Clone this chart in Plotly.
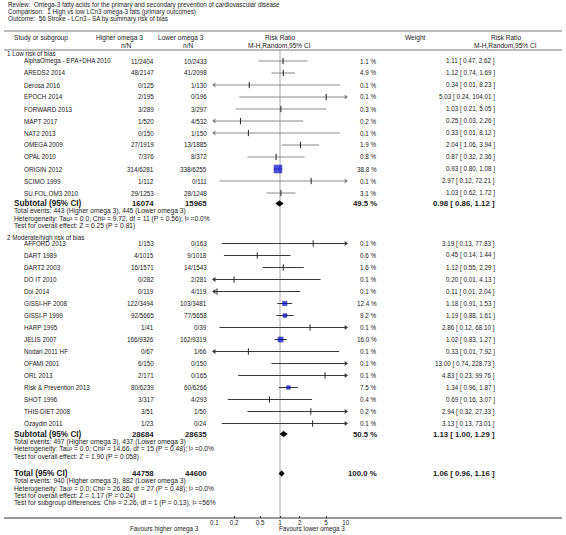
import plotly.graph_objects as go

W, H = 566, 535

# ---------------- header text ----------------
review = "Review:  Omega-3 fatty acids for the primary and secondary prevention of cardiovascular disease"
comparison = "Comparison:  1 High vs low LCn3 omega-3 fats (primary outcomes)"
outcome = "Outcome:  56 Stroke - LCn3 - SA by summary risk of bias"

# ---------------- group 1 data ----------------
g1_title = "1 Low risk of bias"
g1_names = ["AlphaOmega - EPA+DHA 2010", "AREDS2 2014", "Derosa 2016", "EPOCH 2014", "FORWARD 2013",
            "MAPT 2017", "NAT2 2013", "OMEGA 2009", "OPAL 2010", "ORIGIN 2012", "SCIMO 1999",
            "SU.FOL.OM3 2010"]
g1_hi = ["11/2404", "48/2147", "0/125", "2/195", "3/289", "1/520", "0/150", "27/1919", "7/376",
         "314/6281", "1/112", "29/1253"]
g1_lo = ["10/2433", "41/2098", "1/130", "0/196", "3/297", "4/532", "1/150", "13/1885", "8/372",
         "338/6255", "0/111", "28/1248"]
g1_weight = [1.1, 4.9, 0.1, 0.1, 0.3, 0.2, 0.1, 1.9, 0.8, 38.8, 0.1, 3.1]
g1_rr = [1.11, 1.12, 0.34, 5.03, 1.03, 0.25, 0.33, 2.04, 0.87, 0.93, 2.97, 1.03]
g1_lcl = [0.47, 0.74, 0.01, 0.24, 0.21, 0.03, 0.01, 1.06, 0.32, 0.80, 0.12, 0.62]
g1_ucl = [2.62, 1.69, 8.23, 104.01, 5.05, 2.26, 8.12, 3.94, 2.36, 1.08, 72.21, 1.72]
g1_sub_n = ["16074", "15965"]
g1_sub_w = 49.5
g1_sub = [0.98, 0.86, 1.12]
g1_stats = ["Total events: 443 (Higher omega 3), 445 (Lower omega 3)",
            "Heterogeneity: Tau² = 0.0; Chi² = 9.72, df = 11 (P = 0.56); I² =0.0%",
            "Test for overall effect: Z = 0.25 (P = 0.81)"]

# ---------------- group 2 data ----------------
g2_title = "2 Moderate/high risk of bias"
g2_names = ["AFFORD 2013", "DART 1989", "DART2 2003", "DO IT 2010", "Doi 2014", "GISSI-HF 2008",
            "GISSI-P 1999", "HARP 1995", "JELIS 2007", "Nodari 2011 HF", "OFAMI 2001", "ORL 2013",
            "Risk & Prevention 2013", "SHOT 1996", "THIS DIET 2008", "Özaydin 2011"]
g2_hi = ["1/153", "4/1015", "16/1571", "0/282", "0/119", "122/3494", "92/5665", "1/41", "166/9326",
         "0/67", "6/150", "2/171", "80/6239", "3/317", "3/51", "1/23"]
g2_lo = ["0/163", "9/1018", "14/1543", "2/281", "4/119", "103/3481", "77/5658", "0/39", "162/9319",
         "1/66", "0/150", "0/165", "60/6266", "4/293", "1/50", "0/24"]
g2_weight = [0.1, 0.6, 1.6, 0.1, 0.1, 12.4, 9.2, 0.1, 16.0, 0.1, 0.1, 0.1, 7.5, 0.4, 0.2, 0.1]
g2_rr = [3.19, 0.45, 1.12, 0.20, 0.11, 1.18, 1.19, 2.86, 1.02, 0.33, 13.00, 4.83, 1.34, 0.69, 2.94, 3.13]
g2_lcl = [0.13, 0.14, 0.55, 0.01, 0.01, 0.91, 0.88, 0.12, 0.83, 0.01, 0.74, 0.23, 0.96, 0.16, 0.32, 0.13]
g2_ucl = [77.83, 1.44, 2.29, 4.13, 2.04, 1.53, 1.61, 68.10, 1.27, 7.92, 228.73, 99.76, 1.87, 3.07,
          27.33, 73.01]
g2_sub_n = ["28684", "28635"]
g2_sub_w = 50.5
g2_sub = [1.13, 1.00, 1.29]
g2_stats = ["Total events: 497 (Higher omega 3), 437 (Lower omega 3)",
            "Heterogeneity: Tau² = 0.0; Chi² = 14.66, df = 15 (P = 0.48); I² =0.0%",
            "Test for overall effect: Z = 1.90 (P = 0.058)"]

# ---------------- overall ----------------
tot_n = ["44758", "44600"]
tot_w = 100.0
tot = [1.06, 0.96, 1.16]
tot_stats = ["Total events: 940 (Higher omega 3), 882 (Lower omega 3)",
             "Heterogeneity: Tau² = 0.0; Chi² = 26.86, df = 27 (P = 0.48); I² =0.0%",
             "Test for overall effect: Z = 1.17 (P = 0.24)",
             "Test for subgroup differences: Chi² = 2.26, df = 1 (P = 0.13), I² =56%"]

tick_vals = [0.1, 0.2, 0.5, 1, 2, 5, 10]
tick_text = ["0.1", "0.2", "0.5", "1", "2", "5", "10"]
fav_left = "Favours higher omega 3"
fav_right = "Favours lower omega 3"

# ---------------- layout helpers ----------------
FONT = "Liberation Sans, Arial, Helvetica, sans-serif"
TXT = "#1a1a1a"
XMIN, XMAX = 0.1, 10.0
AX_L, AX_R = 213.3, 346.7      # pixel extent of the log axis
AX_Y = 518                      # pixel row of axis line
LSHIFT = -4                     # compensation for annotation padding on left-anchored text
CSHIFT = -3
COL_NAME, COL_HI, COL_LO, COL_W, COL_RR = 23, 153.5, 206.5, 379.5, 499.5

fig = go.Figure()
annotations = []
shapes = []


def px(x):
    return x / W


def py(y):
    return 1 - y / H


def text(s, x, y, anchor="left", size=6.3, bold=False, color=TXT):
    if anchor == "left":
        x += LSHIFT
    elif anchor == "center":
        x += CSHIFT
    annotations.append(dict(
        text=("<b>%s</b>" % s) if bold else s, x=px(x), y=py(y), xref="paper", yref="paper",
        xanchor=anchor, yanchor="middle", showarrow=False, borderpad=0,
        font=dict(family=FONT, size=size, color=color)))


def hline(y, color="#444", width=1):
    shapes.append(dict(type="line", xref="paper", yref="paper", x0=0, x1=1, y0=py(y), y1=py(y),
                       line=dict(color=color, width=width)))


def fmt_rr(r, l, u):
    return "%.2f [ %.2f, %.2f ]" % (r, l, u)


# header
text(review, 7, 5)
text(comparison, 7, 12)
text(outcome, 7, 19)
hline(31, "#777", 1)
text("Study or subgroup", 13, 38, size=6.6)
text("Higher omega 3", 120, 38, "center", size=6.6)
text("n/N", 127, 45, "center", size=6.6)
text("Lower omega 3", 183, 38, "center", size=6.6)
text("n/N", 190, 45, "center", size=6.6)
text("Risk Ratio", 283, 38, "center", size=6.6)
text("M-H,Random,95% CI", 282, 45, "center", size=6.6)
text("Weight", 420, 38, "center", size=6.6)
text("Risk Ratio", 512, 38, "center", size=6.6)
text("M-H,Random,95% CI", 512, 45, "center", size=6.6)
hline(50, "#777", 1)

# reference line at RR = 1
shapes.append(dict(type="line", xref="x", yref="paper", x0=1, x1=1, y0=py(50), y1=py(AX_Y),
                   line=dict(color="#d4d4d4", width=2), layer="below"))


def add_summary(label, y, n, w, est, stats):
    text(label, 13, y, bold=True, size=8.2)
    text(n[0], COL_HI, y, "right", bold=True, size=7.8)
    text(n[1], COL_LO, y, "right", bold=True, size=7.8)
    text("%.1f %%" % w, COL_W, y, "right", bold=True, size=7.8)
    text(fmt_rr(*est), COL_RR, y, "right", bold=True, size=7.8)
    r, l, u = est
    fig.add_trace(go.Scatter(x=[l, r, u, r, l], y=[y, y - 2.8, y, y + 2.8, y], mode="lines",
                             fill="toself", fillcolor="#000", line=dict(color="#000", width=0.6),
                             hoverinfo="skip", showlegend=False))
    for k, s in enumerate(stats):
        text(s, 13, y + 0.6 + 7.3 * (k + 1), size=6.7)


def add_group(title, title_y, first_y, names, hi, lo, wts, rr, lcl, ucl, line_color,
              sub_n, sub_w, sub, stats):
    text(title, 6, title_y)
    ys = [first_y + 12 * i for i in range(len(names))]
    lx, ly = [], []
    sq_x, sq_y, sq_s = [], [], []
    tk_x, tk_y = [], []
    al_x, al_y, ar_x, ar_y = [], [], [], []
    for i, y in enumerate(ys):
        text(names[i], COL_NAME, y)
        text(hi[i], COL_HI, y, "right")
        text(lo[i], COL_LO, y, "right")
        text("%.1f %%" % wts[i], COL_W, y, "right")
        text(fmt_rr(rr[i], lcl[i], ucl[i]), COL_RR, y, "right")
        lo_c, hi_c = max(lcl[i], XMIN), min(ucl[i], XMAX)
        lx += [lo_c, hi_c, None]
        ly += [y, y, None]
        if lcl[i] < XMIN:
            al_x.append(XMIN); al_y.append(y)
        if ucl[i] > XMAX:
            ar_x.append(XMAX); ar_y.append(y)
        if XMIN <= rr[i] <= XMAX:
            if wts[i] >= 5:
                sq_x.append(rr[i]); sq_y.append(y); sq_s.append(max(3.6, 1.25 * wts[i] ** 0.5))
            else:
                tk_x.append(rr[i]); tk_y.append(y)
    fig.add_trace(go.Scatter(x=lx, y=ly, mode="lines", line=dict(color=line_color, width=1.1),
                             hoverinfo="skip", showlegend=False))
    fig.add_trace(go.Scatter(x=al_x, y=al_y, mode="markers", cliponaxis=False,
                             marker=dict(symbol="triangle-left", size=4.5, color=line_color),
                             hoverinfo="skip", showlegend=False))
    fig.add_trace(go.Scatter(x=ar_x, y=ar_y, mode="markers", cliponaxis=False,
                             marker=dict(symbol="triangle-right", size=4.5, color=line_color),
                             hoverinfo="skip", showlegend=False))
    fig.add_trace(go.Scatter(x=tk_x, y=tk_y, mode="markers",
                             marker=dict(symbol="line-ns", size=4.5,
                                         line=dict(color="#222", width=1)),
                             hoverinfo="skip", showlegend=False))
    fig.add_trace(go.Scatter(x=sq_x, y=sq_y, mode="markers",
                             marker=dict(symbol="square", size=sq_s, color="#0000dd",
                                         line=dict(color="#00008b", width=0.7)),
                             hoverinfo="skip", showlegend=False))
    sy = ys[-1] + 10.5
    add_summary("Subtotal (95% CI)", sy, sub_n, sub_w, sub, stats)
    return sy


s1 = add_group(g1_title, 54, 61, g1_names, g1_hi, g1_lo, g1_weight, g1_rr, g1_lcl, g1_ucl,
               "#8a8a8a", g1_sub_n, g1_sub_w, g1_sub, g1_stats)
s2 = add_group(g2_title, s1 + 34, s1 + 40, g2_names, g2_hi, g2_lo, g2_weight, g2_rr, g2_lcl, g2_ucl,
               "#3a3a3a", g2_sub_n, g2_sub_w, g2_sub, g2_stats)
add_summary("Total (95% CI)", s2 + 39.5, tot_n, tot_w, tot, tot_stats)

# axis line across full width
hline(AX_Y, "#333", 1)
text(fav_left, 199, 529, "right", size=6.3)
text(fav_right, 282, 529, "left", size=6.3)

fig.update_layout(
    width=W, height=H, margin=dict(l=0, r=0, t=0, b=0),
    paper_bgcolor="white", plot_bgcolor="white",
    xaxis=dict(type="log", range=[-1, 1], domain=[AX_L / W, AX_R / W], showgrid=False,
               zeroline=False, showline=False, tickvals=tick_vals, ticktext=tick_text,
               ticks="inside", ticklen=2, tickcolor="#333",
               tickfont=dict(family=FONT, size=6.3, color=TXT), fixedrange=True),
    yaxis=dict(range=[AX_Y, 0], domain=[(H - AX_Y) / H, 1], showgrid=False, zeroline=False,
               showline=False, showticklabels=False, ticks="", fixedrange=True),
    annotations=annotations, shapes=shapes, showlegend=False,
)

fig.write_html("out.html", config={"displayModeBar": False},
               post_script="document.body.style.margin='0';document.body.style.overflow='hidden';")
